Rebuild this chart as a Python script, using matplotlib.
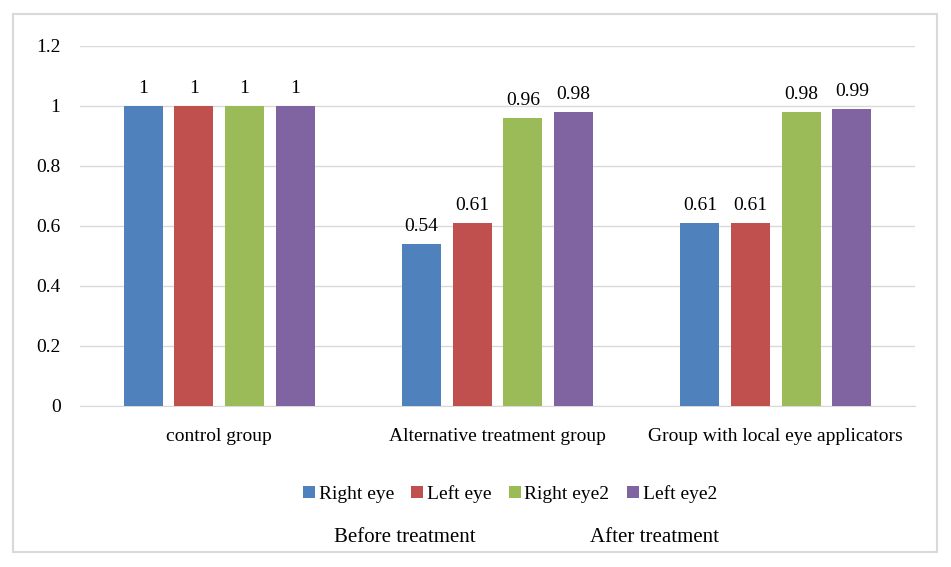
import numpy as np
import matplotlib.pyplot as plt
from matplotlib.patches import Rectangle

# data
categories = ["control group", "Alternative treatment group", "Group with local eye applicators"]
series_names = ["Right eye", "Left eye", "Right eye2", "Left eye2"]
right_eye = [1, 0.54, 0.61]
left_eye = [1, 0.61, 0.61]
right_eye2 = [1, 0.96, 0.98]
left_eye2 = [1, 0.98, 0.99]
yticks = [0, 0.2, 0.4, 0.6, 0.8, 1, 1.2]
ytick_labels = ["0", "0.2", "0.4", "0.6", "0.8", "1", "1.2"]

colors = ["#4F81BD", "#C0504D", "#9BBB59", "#8064A2"]

plt.rcParams['font.family'] = ['Liberation Serif', 'DejaVu Serif']
fs = 14

fig = plt.figure(figsize=(9.51, 5.67), dpi=100)
W, H = 951, 567
ax = fig.add_axes([80/W, 1 - 406/H, 835/W, 360/H])

x = np.arange(len(categories))
width = 0.14
pitch = 0.182
all_series = [right_eye, left_eye, right_eye2, left_eye2]
for i, vals in enumerate(all_series):
  pos = x + (i - 1.5)*pitch
  bars = ax.bar(pos, vals, width, color=colors[i], label=series_names[i], zorder=3)
  for b, v in zip(bars, vals):
    ax.text(b.get_x() + b.get_width()/2, v + 0.03, f"{v:g}",
            ha="center", va="bottom", fontsize=fs)

ax.set_xlim(-0.5, 2.5)
ax.set_ylim(0, 1.2)
ax.set_yticks(yticks)
ax.set_yticklabels(ytick_labels, fontsize=fs)
ax.set_xticks(x)
ax.set_xticklabels(categories, fontsize=fs)
ax.tick_params(axis="both", length=0)
ax.tick_params(axis="y", pad=14)
ax.tick_params(axis="x", pad=16)
ax.grid(axis="y", color="#D9D9D9", linewidth=1, zorder=0)
for s in ["top", "right", "left"]:
  ax.spines[s].set_visible(False)
ax.spines["bottom"].set_color("#D9D9D9")

leg = fig.legend(loc="center", bbox_to_anchor=(510/W, 1 - 494/H), ncol=4,
                 frameon=False, fontsize=fs, handlelength=0.6, handleheight=0.6,
                 handletextpad=0.2, columnspacing=0.9)

fig.text(405/W, 1 - 538/H, "Before treatment", ha="center", va="center", fontsize=15)
fig.text(655/W, 1 - 538/H, "After treatment", ha="center", va="center", fontsize=15)

# chart border
fig.patches.append(Rectangle((13/W, 1 - 552/H), 924/W, 538/H, transform=fig.transFigure,
                             fill=False, edgecolor="#D9D9D9", linewidth=1.5))

fig.savefig("out.png", dpi=100)
